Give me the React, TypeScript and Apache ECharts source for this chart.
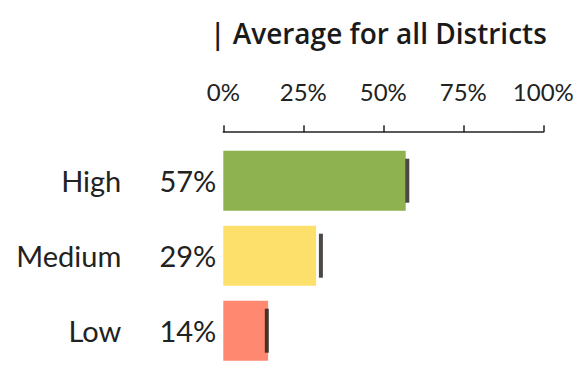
import React, { useEffect, useRef } from "react";
import * as echarts from "echarts";

const categories = ["High", "Medium", "Low"];
const values = [57, 29, 14];
const averages = [57.5, 30.5, 13.6];
const barColors = ["#8db24f", "#fddf6b", "#ff8870"];
const tickValues = [0, 25, 50, 75, 100];
const titleText = "| Average for all Districts";

export default function App() {
  const ref = useRef<HTMLDivElement>(null);
  useEffect(() => {
    document.body.style.margin = "0";
    const chart = echarts.init(ref.current!, undefined, { renderer: "svg" });
    const font = "Lato";
    chart.setOption({
      animation: false,
      title: {
        text: titleText,
        left: 205,
        top: 14,
        textStyle: { fontFamily: "Open Sans", fontWeight: 600, fontSize: 28, color: "#1a1a1a" },
      },
      grid: { left: 223.3, right: 33.7, top: 143.2, bottom: 7.8, containLabel: false },
      xAxis: {
        type: "value",
        position: "top",
        min: tickValues[0],
        max: tickValues[tickValues.length - 1],
        interval: 25,
        offset: 11,
        axisLine: { show: true, lineStyle: { color: "#222", width: 1.5 } },
        axisTick: { show: true, length: 7, lineStyle: { color: "#222", width: 1.5 } },
        splitLine: { show: false },
        axisLabel: {
          formatter: "{value}%",
          margin: 29,
          fontFamily: font,
          fontSize: 24,
          color: "#222",
        },
      },
      yAxis: {
        type: "category",
        inverse: true,
        data: categories,
        axisLine: { show: false },
        axisTick: { show: false },
        axisLabel: { margin: 102, fontFamily: font, fontSize: 29, color: "#222" },
      },
      series: [
        {
          type: "bar",
          barWidth: 60,
          data: values.map((v, i) => ({ value: v, itemStyle: { color: barColors[i] } })),
          label: {
            show: true,
            position: "left",
            distance: 7,
            formatter: "{c}%",
            fontFamily: font,
            fontSize: 29,
            color: "#222",
          },
        },
        {
          type: "scatter",
          symbol: "rect",
          symbolSize: [4, 44],
          data: averages,
          itemStyle: { color: "#1e1a18" },
          z: 5,
        },
      ],
    });
    return () => chart.dispose();
  }, []);
  return <div ref={ref} style={{ width: 577, height: 376 }} />;
}
